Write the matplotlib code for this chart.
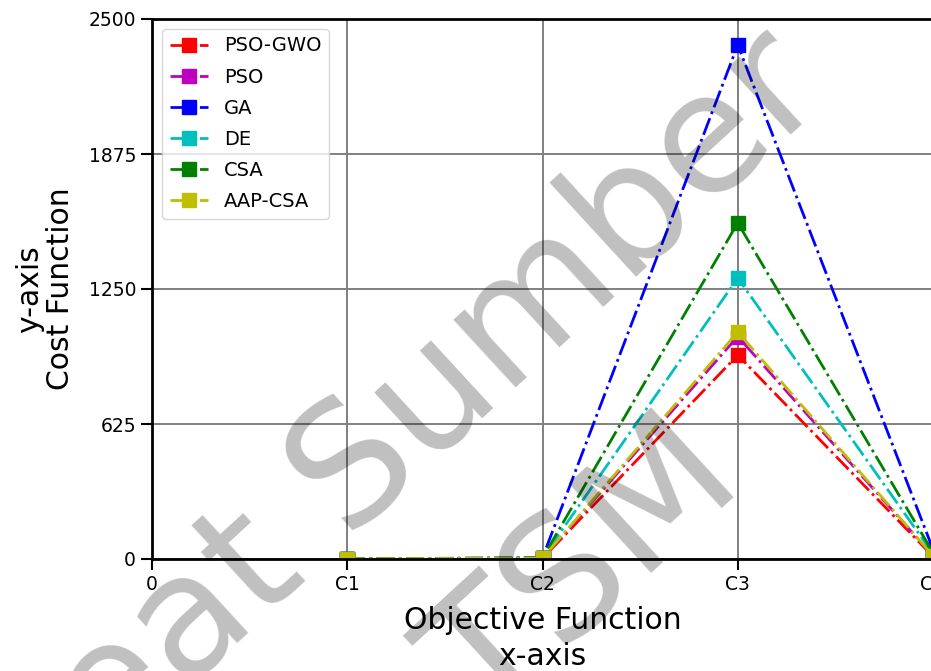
import numpy as np
import matplotlib
matplotlib.use("Agg")
import matplotlib.pyplot as plt

# Dados
categorias = ["C1", "C2", "C3", "C4"]
rotulos_x = ["0", "C1", "C2", "C3", "C4"]
pso_gwo = [0.5, 3, 944, 12]
pso = [0.5, 4, 1030, 15]
ga = [0.5, 6, 2380, 45]
de = [0.5, 5, 1301, 25]
csa = [0.5, 5, 1556, 30]
aap_csa = [0.5, 4, 1051, 15]

series = [
    ("PSO-GWO", pso_gwo, "r"),
    ("PSO", pso, "m"),
    ("GA", ga, "b"),
    ("DE", de, "c"),
    ("CSA", csa, "g"),
    ("AAP-CSA", aap_csa, "y"),
]

fig = plt.figure(figsize=(9.31, 6.71), dpi=100)
ax = fig.add_axes([152 / 931, 1 - 559 / 671, 781 / 931, 540 / 671])

x = np.arange(1, len(categorias) + 1)
for nome, valores, cor in series:
    ax.plot(x, valores, color=cor, linestyle="-.", marker="s",
            markersize=10, linewidth=2.0, label=nome)

ax.set_xlim(0, 4)
ax.set_ylim(0, 2500)
ax.set_xticks(range(len(rotulos_x)))
ax.set_xticklabels(rotulos_x)
ax.set_yticks([0, 625, 1250, 1875, 2500])
ax.tick_params(labelsize=13.5, width=1.5, length=8)
ax.grid(True, color="gray", linewidth=1.4)
for s in ax.spines.values():
    s.set_linewidth(2)

ax.set_xlabel("Objective Function\nx-axis", fontsize=21.5, linespacing=1.3,
              labelpad=8.5)
ax.set_ylabel("y-axis\nCost Function", fontsize=21.5, linespacing=1.05,
              labelpad=10)
ax.legend(loc="upper left", fontsize=14, labelspacing=0.62)

# marca d'água
fig.text(397 / 931, 1 - 496 / 671, "Great Sumber", fontsize=121, color="black",
         alpha=0.25, rotation=42.6, rotation_mode="anchor",
         ha="center", va="baseline", zorder=10)
fig.text(616 / 931, 1 - 606 / 671, "TSM", fontsize=121, color="black",
         alpha=0.25, rotation=42.6, rotation_mode="anchor",
         ha="center", va="baseline", zorder=10)

fig.savefig("out.png", dpi=100)
